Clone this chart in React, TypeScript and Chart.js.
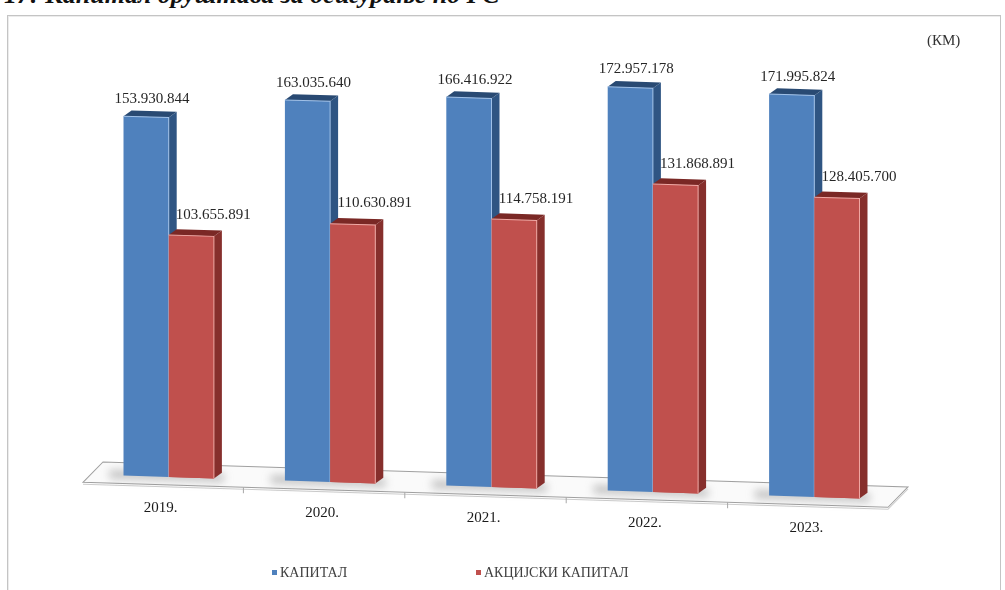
import React, { useEffect, useRef } from "react";
import { Chart, registerables } from "chart.js";

Chart.register(...registerables);

// ---- data ----
const categories = ["2019.", "2020.", "2021.", "2022.", "2023."];
const kapital = [153930844, 163035640, 166416922, 172957178, 171995824];
const akcijskiKapital = [103655891, 110630891, 114758191, 131868891, 128405700];
const seriesNames = ["КАПИТАЛ", "АКЦИЈСКИ КАПИТАЛ"];
const unitLabel = "(КМ)";
const titleText = "17: Капитал друштава за осигурање по ГС";

// ---- style ----
const FRONT = ["#4f81bd", "#c0504d"];
const SIDE = ["#2f5583", "#862f2c"];
const TOP = ["#294a73", "#7a2825"];
const EDGE = ["#9fc0e8", "#f0a8a4"];
const SLANT = 0.031;
const DX = 8;
const DY = 6;
const SERIF = '"Liberation Serif", "DejaVu Serif", serif';

const fmt = (n: number) => String(n).replace(/\B(?=(\d{3})+(?!\d))/g, ".");

const pseudo3d = {
  id: "pseudo3d",
  beforeDatasetsDraw(chart: any) {
    const { ctx, chartArea } = chart;
    const x0 = chartArea.left;
    const b = chartArea.bottom;
    ctx.save();
    ctx.transform(1, SLANT, 0, 1, 0, -SLANT * x0);
    // floor
    ctx.beginPath();
    ctx.moveTo(chartArea.left + 15, b - 13);
    ctx.lineTo(chartArea.right + 13, b - 13);
    ctx.lineTo(chartArea.right - 7, b + 8);
    ctx.lineTo(chartArea.left - 5, b + 8);
    ctx.closePath();
    ctx.fillStyle = "#fafafa";
    ctx.fill();
    ctx.strokeStyle = "#a0a0a0";
    ctx.lineWidth = 1;
    ctx.stroke();
    ctx.beginPath();
    ctx.moveTo(chartArea.left - 5, b + 10);
    ctx.lineTo(chartArea.right - 7, b + 10);
    ctx.lineTo(chartArea.right + 13, b - 11);
    ctx.strokeStyle = "#cccccc";
    ctx.stroke();
    // ticks on front edge
    const xs = chart.scales.x;
    for (let i = 1; i < categories.length; i++) {
      const bx = (xs.getPixelForValue(i - 1) + xs.getPixelForValue(i)) / 2 - 6;
      ctx.beginPath();
      ctx.moveTo(bx, b + 8);
      ctx.lineTo(bx, b + 14);
      ctx.strokeStyle = "#a8a8a8";
      ctx.stroke();
    }
    // soft shadows under groups
    const m0 = chart.getDatasetMeta(0);
    const m1 = chart.getDatasetMeta(1);
    ctx.save();
    ctx.filter = "blur(4px)";
    ctx.fillStyle = "rgba(120,120,120,0.45)";
    m0.data.forEach((bar: any, i: number) => {
      const l = bar.x - bar.width / 2;
      const r2 = m1.data[i].x + m1.data[i].width / 2;
      ctx.fillRect(l - 14, b - 5, r2 - l + 24, 8);
    });
    ctx.restore();
  },
  afterDatasetsDraw(chart: any) {
    const { ctx, chartArea } = chart;
    const x0 = chartArea.left;
    const faces = (bar: any, s: number) => {
      const l = bar.x - bar.width / 2;
      const r = bar.x + bar.width / 2;
      const y = bar.y;
      const base = bar.base;
      ctx.beginPath();
      ctx.moveTo(r, y);
      ctx.lineTo(r + DX, y - DY);
      ctx.lineTo(r + DX, base - DY);
      ctx.lineTo(r, base);
      ctx.closePath();
      ctx.fillStyle = SIDE[s];
      ctx.fill();
      ctx.beginPath();
      ctx.moveTo(l, y);
      ctx.lineTo(l + DX, y - DY);
      ctx.lineTo(r + DX, y - DY);
      ctx.lineTo(r, y);
      ctx.closePath();
      ctx.fillStyle = TOP[s];
      ctx.fill();
      ctx.beginPath();
      ctx.moveTo(l, y);
      ctx.lineTo(r, y);
      ctx.lineTo(r, base);
      ctx.strokeStyle = EDGE[s];
      ctx.lineWidth = 1;
      ctx.stroke();
    };
    const m0 = chart.getDatasetMeta(0);
    const m1 = chart.getDatasetMeta(1);
    m0.data.forEach((bar: any) => faces(bar, 0));
    m1.data.forEach((bar: any) => {
      bar.draw(ctx);
      faces(bar, 1);
    });
    ctx.restore();

    // value labels
    ctx.save();
    ctx.font = `15px ${SERIF}`;
    ctx.fillStyle = "#262626";
    ctx.textAlign = "center";
    ctx.textBaseline = "middle";
    const offs = [
      [6, -18],
      [22, -21],
    ];
    [m0, m1].forEach((m: any, s: number) => {
      m.data.forEach((bar: any, i: number) => {
        const v = chart.data.datasets[s].data[i];
        const sy = bar.y + SLANT * (bar.x - x0);
        ctx.fillText(fmt(v), bar.x + offs[s][0], sy + offs[s][1]);
      });
    });
    // category labels
    const xs = chart.scales.x;
    ctx.fillStyle = "#1a1a1a";
    categories.forEach((c, i) => {
      const cx = xs.getPixelForValue(i);
      ctx.fillText(c, cx - 8, chartArea.bottom + SLANT * (cx - x0) + 31);
    });
    ctx.restore();
  },
  afterDraw(chart: any) {
    const { ctx } = chart;
    ctx.save();
    ctx.font = `14px ${SERIF}`;
    ctx.textBaseline = "middle";
    ctx.textAlign = "left";
    const starts = [272, 476];
    chart.data.datasets.forEach((ds: any, s: number) => {
      const x = starts[s];
      ctx.fillStyle = FRONT[s];
      ctx.fillRect(x, 570, 5, 5);
      ctx.fillStyle = "#404040";
      ctx.fillText(ds.label, x + 8, 573);
    });
    ctx.font = `15px ${SERIF}`;
    ctx.fillStyle = "#333";
    ctx.fillText(unitLabel, 927, 41);
    ctx.restore();
  },
};

export default function App() {
  const ref = useRef<HTMLCanvasElement | null>(null);
  useEffect(() => {
    if (!ref.current) return;
    const chart = new Chart(ref.current, {
      type: "bar",
      data: {
        labels: categories,
        datasets: [
          {
            label: seriesNames[0],
            data: kapital,
            backgroundColor: FRONT[0],
            borderWidth: 0,
            categoryPercentage: 0.56,
            barPercentage: 1,
            clip: false as any,
          },
          {
            label: seriesNames[1],
            data: akcijskiKapital,
            backgroundColor: FRONT[1],
            borderWidth: 0,
            categoryPercentage: 0.56,
            barPercentage: 1,
            clip: false as any,
          },
        ],
      },
      options: {
        responsive: false,
        animation: false,
        layout: { padding: { left: 88, right: 110, top: 7.5, bottom: 115.5 } },
        scales: {
          x: { display: false },
          y: { display: false, min: 0, max: 200000000 },
        },
        plugins: {
          legend: { display: false },
          tooltip: { enabled: false },
          title: { display: false },
        },
      },
      plugins: [pseudo3d],
    });
    return () => chart.destroy();
  }, []);

  return (
    <div style={{ position: "absolute", left: 0, top: 0, width: 1005, height: 590, overflow: "hidden", background: "#fff" }}>
      <div
        style={{
          position: "absolute",
          left: 7,
          top: 15,
          width: 994,
          height: 600,
          border: "1px solid #c4c4c4",
          boxShadow: "inset 1px 1px 0 #ececec",
          boxSizing: "border-box",
        }}
      />
      <div
        style={{
          position: "absolute",
          left: 4,
          top: -20,
          font: `bold italic 26px ${SERIF}`,
          lineHeight: "30px",
          whiteSpace: "nowrap",
          color: "#111",
        }}
      >
        {titleText}
      </div>
      <canvas ref={ref} width={1005} height={590} style={{ position: "absolute", left: 0, top: 0, display: "block" }} />
    </div>
  );
}
